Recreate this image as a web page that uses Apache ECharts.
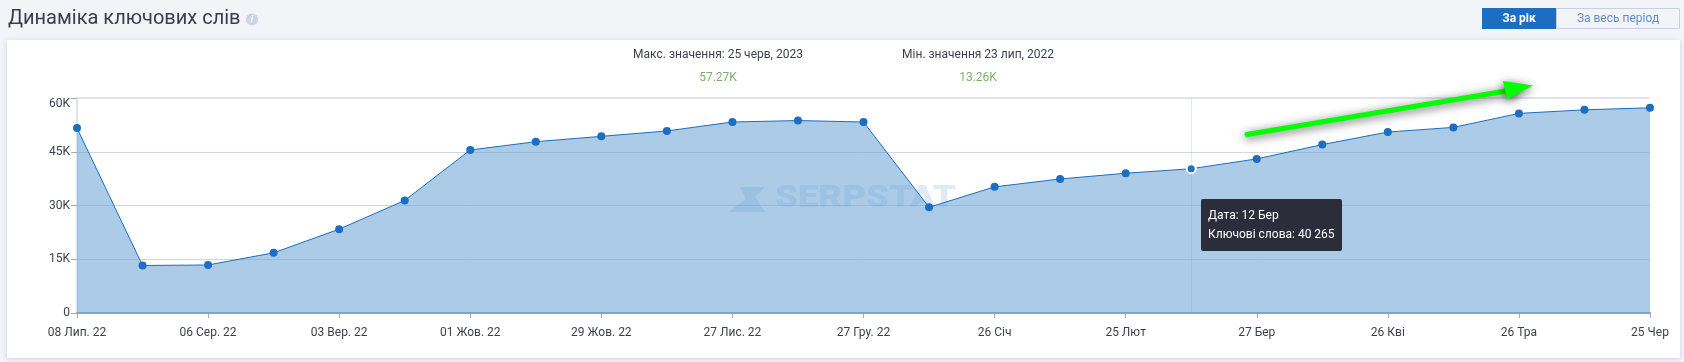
<!DOCTYPE html>
<html>
<head>
<meta charset="utf-8">
<script src="https://cdn.jsdelivr.net/npm/echarts@6/dist/echarts.min.js"></script>
<style>
html,body{margin:0;padding:0;background:#f3f4f8;}
#container{width:1684px;height:362px;}
</style>
</head>
<body>
<div id="container"></div>
<script>
var dates = ['08 Лип. 22','23 Лип','06 Сер. 22','20 Сер','03 Вер. 22','17 Вер','01 Жов. 22','15 Жов','29 Жов. 22','12 Лис','27 Лис. 22','12 Гру','27 Гру. 22','11 Січ','26 Січ','10 Лют','25 Лют','12 Бер','27 Бер','11 Кві','26 Кві','11 Тра','26 Тра','10 Чер','25 Чер'];
var keywords = [51600,13260,13400,16800,23400,31400,45500,47800,49300,50800,53300,53700,53300,29500,35200,37400,39000,40265,43000,47000,50500,51800,55700,56700,57270];
var yTicks = {0:'0',15000:'15K',30000:'30K',45000:'45K',60000:'60K'};
var hoverIndex = 17;

var font = 'Roboto';
var textColor = '#3c3f4d';
var blue = '#1b6ec2';

var myChart = echarts.init(document.getElementById('container'));
var option = {
    animation:false,
    backgroundColor:'#f3f4f8',
    textStyle:{fontFamily:font},
    grid:{left:77,right:34,top:98,bottom:49,containLabel:false},
    tooltip:{
        trigger:'item',
        alwaysShowContent:true,
        transitionDuration:0,
        position:[1201,199],
        backgroundColor:'#2b2d3a',
        borderWidth:0,
        borderRadius:2,
        padding:[7,7],
        textStyle:{color:'#fff',fontSize:12,fontFamily:font,lineHeight:19},
        extraCssText:'box-shadow:none;',
        formatter:function(p){
            return 'Дата: '+p.name+'<br>Ключові слова: '+String(p.value).replace(/(\d)(?=(\d{3})$)/,'$1 ');
        }
    },
    xAxis:{
        type:'category',
        boundaryGap:false,
        data:dates,
        axisLine:{lineStyle:{color:'#8fa3bb',width:2}},
        axisTick:{interval:1,length:5,lineStyle:{color:'#a8a8a8'}},
        axisLabel:{interval:1,color:textColor,fontSize:12,margin:14,hideOverlap:false,alignMinLabel:'center',alignMaxLabel:'center'},
        splitLine:{show:false}
    },
    yAxis:{
        type:'value',
        min:0,
        max:60000,
        interval:15000,
        axisLine:{show:true,lineStyle:{color:'#dfe3ec',width:2}},
        axisTick:{show:true,length:6,lineStyle:{color:'#a8a8a8'}},
        axisLabel:{color:textColor,fontSize:12,margin:7,verticalAlignMaxLabel:'top',formatter:function(v){return yTicks[v];}},
        splitLine:{show:true,showMaxLine:false,lineStyle:{color:'#cfd6e4',width:1}}
    },
    series:[{
        name:'Ключові слова',
        type:'line',
        data:keywords.map(function(v,i){
            return i==hoverIndex ? {value:v,symbolSize:9,itemStyle:{color:blue,borderColor:'#fff',borderWidth:2}} : v;
        }),
        symbol:'circle',
        symbolSize:8,
        showSymbol:true,
        showAllSymbol:true,
        lineStyle:{color:blue,width:1},
        itemStyle:{color:blue},
        areaStyle:{color:'#6fa5d6',opacity:0.58},
        emphasis:{disabled:true},
        markLine:{
            silent:true,
            symbol:'none',
            label:{show:false},
            lineStyle:{color:'rgba(130,150,185,0.22)',width:1,type:'solid'},
            data:[{xAxis:hoverIndex}]
        }
    }],
    graphic:[
        // картка
        {type:'rect',z:-10,shape:{x:7,y:40,width:1673,height:318},style:{fill:'#fff',shadowBlur:5,shadowColor:'rgba(130,150,190,0.35)',shadowOffsetY:1}},
        // заголовок
        {type:'text',left:8,top:9,style:{text:'Динаміка ключових слів',font:'400 20px Roboto',fill:'#3a3d4b'}},
        {type:'circle',shape:{cx:252,cy:19.5,r:6},style:{fill:'#ccd3e2'}},
        {type:'text',style:{x:252,y:19.5,text:'i',font:'italic bold 9px Roboto',fill:'#fff',align:'center',verticalAlign:'middle'}},
        // кнопки
        {type:'rect',shape:{x:1482,y:8,width:74,height:21},style:{fill:'#1b6ec2'}},
        {type:'text',style:{x:1519,y:18.5,text:'За рік',font:'bold 12px Roboto',fill:'#fff',align:'center',verticalAlign:'middle'}},
        {type:'rect',shape:{x:1556.5,y:8.5,width:123,height:20},style:{fill:'#f3f4f8',stroke:'#c3d0e6',lineWidth:1}},
        {type:'text',style:{x:1618,y:18.5,text:'За весь період',font:'12px Roboto',fill:'#5a8ec9',align:'center',verticalAlign:'middle'}},
        // макс / мін
        {type:'text',style:{x:718,y:54.5,text:'Макс. значення: 25 черв, 2023',font:'12px Roboto',fill:textColor,align:'center',verticalAlign:'middle'}},
        {type:'text',style:{x:718,y:78,text:'57.27K',font:'12px Roboto',fill:'#7fb06a',align:'center',verticalAlign:'middle'}},
        {type:'text',style:{x:978,y:54.5,text:'Мін. значення 23 лип, 2022',font:'12px Roboto',fill:textColor,align:'center',verticalAlign:'middle'}},
        {type:'text',style:{x:978,y:78,text:'13.26K',font:'12px Roboto',fill:'#7fb06a',align:'center',verticalAlign:'middle'}},
        // верхня лінія сітки
        {type:'rect',z:1,shape:{x:77,y:97,width:1573,height:2},style:{fill:'#e0e4ed'}},
        // водяний знак
        {type:'polygon',z:1,shape:{points:[[740,187],[765,187],[755,197],[765,212],[729,212],[746,199]]},style:{fill:'rgba(130,170,215,0.32)'}},
        {type:'text',z:1,x:775,y:199.5,scaleX:1.18,style:{x:0,y:0,text:'SERPSTAT',font:'900 31px Roboto',fill:'rgba(130,170,215,0.25)',align:'left',verticalAlign:'middle'}},
        // зелена стрілка
        {type:'polyline',z:20,shape:{points:[[1247,134.5],[1512,90]]},style:{stroke:'#00ff00',lineWidth:5,lineCap:'round',shadowBlur:10,shadowColor:'rgba(0,0,0,0.65)',shadowOffsetY:2}},
        {type:'polygon',z:20,shape:{points:[[1503,81],[1533,85.5],[1507,99.5]]},style:{fill:'#00ff00',shadowBlur:10,shadowColor:'rgba(0,0,0,0.65)',shadowOffsetY:2}}
    ]
};
if (option && typeof option === "object") {
    myChart.setOption(option, true);
}
myChart.dispatchAction({type:'showTip',seriesIndex:0,dataIndex:hoverIndex});
</script>
</body>
</html>
